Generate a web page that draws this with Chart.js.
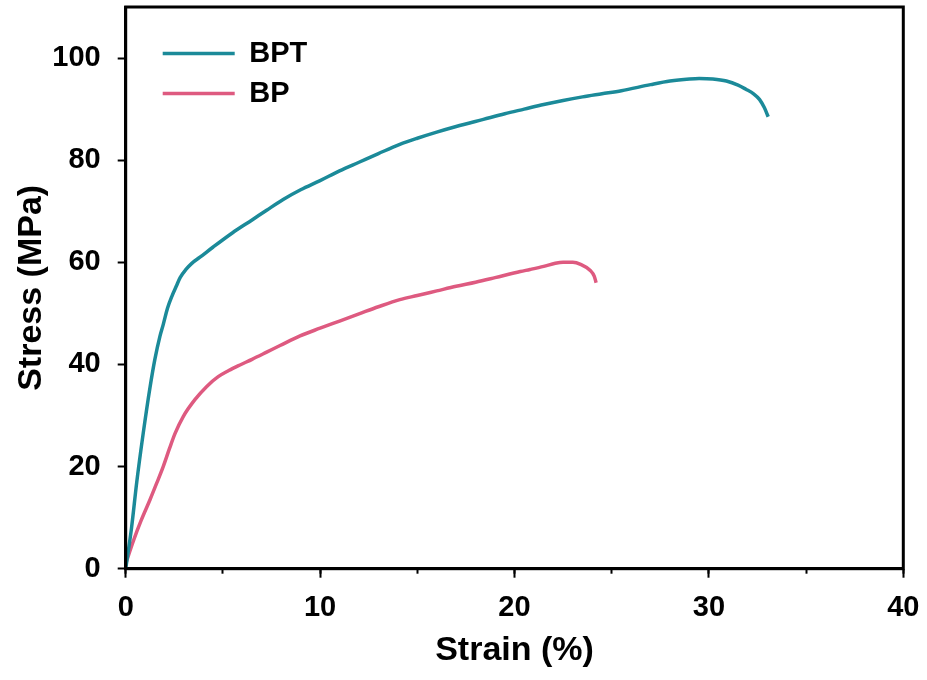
<!DOCTYPE html>
<html>
<head>
<meta charset="utf-8">
<script src="https://cdn.jsdelivr.net/npm/chart.js@4/dist/chart.umd.min.js"></script>
<style>
  html, body { margin: 0; padding: 0; background: #fff; }
  #wrap { width: 927px; height: 680px; position: relative; }
</style>
</head>
<body>
<div id="wrap"><canvas id="c"></canvas></div>
<script>
// ---- data (strain %, stress MPa) ----
const seriesNames = ['BPT', 'BP'];
const bptStrain = [0, 0.3, 0.57, 0.9, 1.25, 1.5, 1.76, 1.93, 2.15, 2.37, 2.6, 2.8, 3.1, 3.4, 3.82, 4.5, 5.5, 6.5, 7.25, 8.1, 9.0, 10, 11, 12, 13, 14.1, 15, 16, 17, 18.4, 19.5, 20.5, 21.5, 22.5, 23.5, 24.5, 25.5, 27, 28, 29, 29.5, 30.2, 30.9, 31.5, 31.9, 32.3, 32.6, 32.85, 33.05];
const bptStress = [0, 8, 17, 26.5, 35.5, 41, 45.5, 47.8, 51, 53.3, 55.3, 57, 58.6, 59.8, 61, 63, 65.8, 68.3, 70.2, 72.3, 74.2, 76, 77.9, 79.6, 81.3, 83.1, 84.3, 85.5, 86.6, 88, 89.1, 90, 90.9, 91.7, 92.4, 93, 93.6, 94.8, 95.5, 95.9, 96, 95.9, 95.5, 94.7, 93.9, 93, 91.9, 90.3, 88.5];
const bpStrain = [0, 0.4, 0.8, 1.25, 1.6, 1.93, 2.25, 2.54, 2.96, 3.56, 4.17, 4.76, 5.3, 5.88, 6.5, 7.25, 7.94, 8.97, 10, 11, 12, 13, 14.1, 15, 16, 17, 18, 19, 20.3, 20.8, 21.5, 22.1, 22.5, 23, 23.4, 23.9, 24.1, 24.2];
const bpStress = [1, 5.5, 9.5, 13.5, 16.8, 20, 23.5, 26.5, 29.8, 33.1, 35.7, 37.6, 38.8, 39.9, 41, 42.4, 43.7, 45.6, 47.1, 48.5, 49.9, 51.3, 52.7, 53.5, 54.4, 55.3, 56.1, 57, 58.2, 58.6, 59.2, 59.8, 60, 60, 59.6, 58.4, 57.3, 56];
const xTicks = [0, 10, 20, 30, 40];
const yTicks = [0, 20, 40, 60, 80, 100];

const toPoints = (xs, ys) => xs.map((x, i) => ({ x: x, y: ys[i] }));

Chart.defaults.font.family = '"Liberation Sans", Arial, Helvetica, sans-serif';
Chart.defaults.font.weight = 'bold';
Chart.defaults.color = '#000';

const framePlugin = {
  id: 'frame',
  afterDatasetsDraw(chart) {
    const a = chart.chartArea, ctx = chart.ctx;
    ctx.save();
    ctx.strokeStyle = '#000';
    ctx.lineWidth = 3;
    ctx.strokeRect(a.left, a.top, a.right - a.left, a.bottom - a.top);
    ctx.restore();
  }
};
const legendShift = {
  id: 'legendShift',
  afterLayout(chart, args, opts) {
    if (chart.legend) {
      chart.legend.left += opts.dx;
      chart.legend.top += opts.dy;
    }
  }
};
const noPad = s => { s.paddingTop = 0; s.paddingBottom = 0; s.paddingLeft = 0; s.paddingRight = 0; };

new Chart(document.getElementById('c'), {
  type: 'line',
  data: {
    datasets: [
      { label: seriesNames[0], data: toPoints(bptStrain, bptStress), borderColor: '#1b8a99', backgroundColor: '#1b8a99', borderWidth: 3.5, pointRadius: 0, cubicInterpolationMode: 'monotone', fill: false },
      { label: seriesNames[1], data: toPoints(bpStrain, bpStress), borderColor: '#de5a80', backgroundColor: '#de5a80', borderWidth: 3.5, pointRadius: 0, cubicInterpolationMode: 'monotone', fill: false }
    ]
  },
  options: {
    responsive: true,
    maintainAspectRatio: false,
    animation: false,
    layout: { padding: { left: 0, right: 23.7, top: 7, bottom: 0 } },
    plugins: {
      tooltip: { enabled: false },
      legend: {
        position: 'chartArea',
        align: 'start',
        labels: {
          usePointStyle: true,
          pointStyle: 'line',
          pointStyleWidth: 72,
          boxWidth: 72,
          padding: 11,
          font: { size: 29, weight: 'bold' },
          color: '#000'
        }
      },
      legendShift: { dx: 26, dy: 28 }
    },
    scales: {
      x: {
        type: 'linear', position: 'bottom', weight: 1,
        min: 0, max: 40,
        afterBuildTicks: s => { s.ticks = xTicks.map(v => ({ value: v })); },
        ticks: { font: { size: 29, weight: 'bold' }, color: '#000', padding: 13, maxRotation: 0 },
        grid: { drawOnChartArea: false, drawTicks: true, tickLength: 9, tickWidth: 2, tickColor: '#000' },
        border: { display: true, color: '#000', width: 3 },
        title: { display: true, text: 'Strain (%)', font: { size: 34, weight: 'bold' }, color: '#000', padding: { top: 0, bottom: 9 } },
        afterFit: s => { s.height = 111.3; noPad(s); }
      },
      xMinor: {
        type: 'linear', position: 'bottom', weight: 0,
        min: 0, max: 40,
        ticks: { display: false, stepSize: 5 },
        grid: { drawOnChartArea: false, drawTicks: true, tickLength: 5, tickWidth: 2, tickColor: '#000' },
        border: { display: false },
        afterFit: s => { s.height = 0; noPad(s); }
      },
      y: {
        type: 'linear', position: 'left',
        min: 0, max: 110,
        afterBuildTicks: s => { s.ticks = yTicks.map(v => ({ value: v })); },
        ticks: { font: { size: 29, weight: 'bold' }, color: '#000', padding: 17 },
        grid: { drawOnChartArea: false, drawTicks: true, tickLength: 8, tickWidth: 2, tickColor: '#000' },
        border: { display: true, color: '#000', width: 3 },
        title: { display: true, text: 'Stress (MPa)', font: { size: 34, weight: 'bold' }, color: '#000', padding: { top: 11, bottom: 0 } },
        afterFit: s => { s.width = 125.7; noPad(s); }
      }
    }
  },
  plugins: [framePlugin, legendShift]
});
</script>
</body>
</html>
